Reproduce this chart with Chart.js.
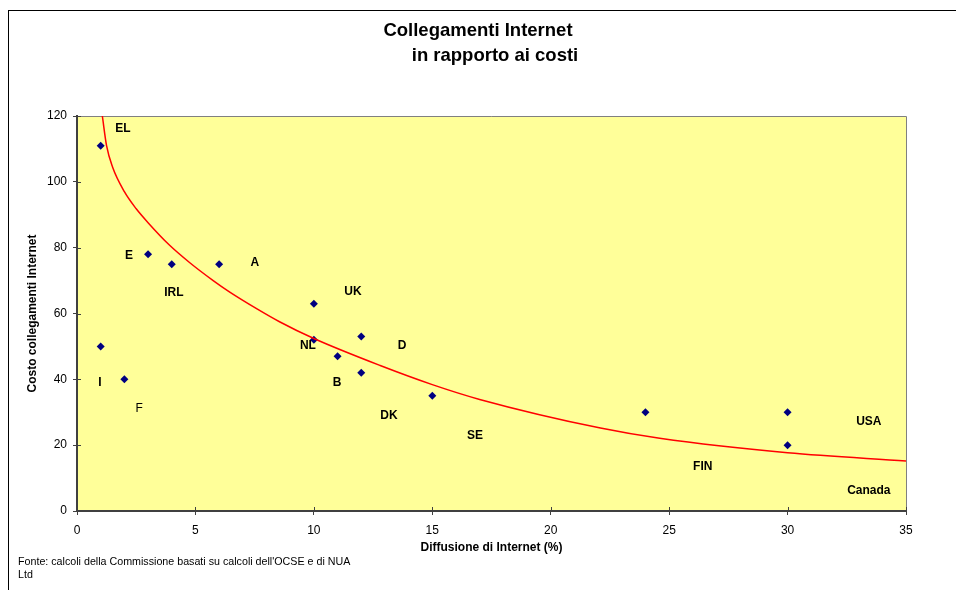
<!DOCTYPE html>
<html>
<head>
<meta charset="utf-8">
<script src="https://cdn.jsdelivr.net/npm/chart.js@4.4.1/dist/chart.umd.min.js"></script>
<style>
  html, body { margin: 0; padding: 0; background: #fff; }
  #wrap { position: relative; width: 956px; height: 590px; overflow: hidden; }
  #frame { position: absolute; left: 8px; top: 10px; width: 980px; height: 620px;
           border-left: 1px solid #000; border-top: 1px solid #000; }
  canvas { position: absolute; left: 0; top: 0; }
</style>
</head>
<body>
<div id="wrap">
  <div id="frame"></div>
  <canvas id="grafico" width="956" height="590"></canvas>
</div>
<script>
// --- DATI ---
const diffusione = [1, 3, 4, 6, 10, 10, 12, 11, 12, 1, 2, 15, 24, 30, 30];
const costo      = [111, 78, 75, 75, 63, 52, 53, 47, 42, 50, 40, 35, 30, 30, 20];

// curva di tendenza
const trendX = [1.07, 1.25, 1.5, 2, 2.5, 3, 3.9, 4.75, 5.75, 6.45, 7.6, 8.55, 10, 12.8, 15, 17, 22.1, 24.6, 30, 35];
const trendY = [120, 110.9, 104.5, 97, 91.8, 87.6, 80.8, 75.5, 70, 66.5, 61.4, 57.5, 52.4, 44.2, 38.4, 33.9, 25.2, 22.1, 17.7, 15.2];

// etichette dei paesi (posizione in unità del grafico)
const paesi  = ['EL', 'E', 'A', 'IRL', 'UK', 'NL', 'D', 'B', 'I', 'F', 'DK', 'SE', 'USA', 'FIN', 'Canada'];
const paesiX = [1.94, 2.2, 7.51, 4.09, 11.65, 9.75, 13.72, 10.98, 0.97, 2.62, 13.17, 16.8, 33.43, 26.42, 33.43];
const paesiY = [116, 77.6, 75.4, 66.4, 66.6, 50.2, 50.2, 39, 39, 31.1, 29, 22.9, 27.1, 13.5, 6.2];

const titolo = ['Collegamenti Internet', 'in rapporto ai costi'];
const fonte  = ["Fonte: calcoli della Commissione basati su calcoli dell'OCSE e di NUA", 'Ltd'];

const FONT = '"Liberation Sans", Arial, sans-serif';

// --- DECORAZIONI ---
const decor = {
  id: 'decor',
  beforeDraw(chart) {
    const { ctx, chartArea: a } = chart;
    ctx.save();
    ctx.fillStyle = '#FFFF99';
    ctx.fillRect(a.left, a.top, a.right - a.left, a.bottom - a.top);
    ctx.restore();
  },
  beforeDatasetsDraw(chart) {
    const { ctx, chartArea: a, scales } = chart;
    ctx.save();
    // bordo superiore e destro
    ctx.strokeStyle = '#808080';
    ctx.lineWidth = 1;
    ctx.beginPath();
    ctx.moveTo(a.left, a.top + 0.5);
    ctx.lineTo(a.right + 0.5, a.top + 0.5);
    ctx.lineTo(a.right + 0.5, a.bottom);
    ctx.stroke();
    // tacche interne
    ctx.strokeStyle = '#404040';
    ctx.beginPath();
    scales.x.ticks.forEach(t => {
      const px = Math.round(scales.x.getPixelForValue(t.value)) + 0.5;
      ctx.moveTo(px, a.bottom);
      ctx.lineTo(px, a.bottom - 4);
    });
    scales.y.ticks.forEach(t => {
      const py = Math.round(scales.y.getPixelForValue(t.value)) + 0.5;
      ctx.moveTo(a.left, py);
      ctx.lineTo(a.left + 4, py);
    });
    ctx.stroke();
    ctx.restore();
  },
  afterDraw(chart) {
    const { ctx, scales } = chart;
    ctx.save();
    ctx.fillStyle = '#000';
    ctx.textAlign = 'center';
    ctx.textBaseline = 'middle';
    paesi.forEach((p, i) => {
      ctx.font = (p === 'F' ? '' : 'bold ') + '12px ' + FONT;
      ctx.fillText(p, scales.x.getPixelForValue(paesiX[i]), scales.y.getPixelForValue(paesiY[i]));
    });
    // titolo
    ctx.font = 'bold 18.5px ' + FONT;
    ctx.fillText(titolo[0], 478, 31);
    ctx.fillText(titolo[1], 495, 56);
    // fonte
    ctx.font = '10.7px ' + FONT;
    ctx.textAlign = 'left';
    ctx.fillText(fonte[0], 18, 562);
    ctx.fillText(fonte[1], 18, 575);
    ctx.restore();
  }
};

new Chart(document.getElementById('grafico'), {
  type: 'scatter',
  data: {
    datasets: [
      {
        label: 'Tendenza',
        data: trendX.map((x, i) => ({ x, y: trendY[i] })),
        showLine: true,
        borderColor: '#FF0000',
        borderWidth: 1.5,
        pointRadius: 0,
        cubicInterpolationMode: 'monotone',
        order: 0
      },
      {
        label: 'Paesi',
        data: diffusione.map((x, i) => ({ x, y: costo[i] })),
        pointStyle: 'rectRot',
        pointRadius: 4,
        backgroundColor: '#000080',
        borderColor: '#000080',
        borderWidth: 0,
        order: 1
      }
    ]
  },
  options: {
    responsive: false,
    animation: false,
    devicePixelRatio: 1,
    layout: { padding: { top: 116, right: 50, left: 0, bottom: 0 } },
    plugins: { legend: { display: false }, tooltip: { enabled: false } },
    scales: {
      x: {
        type: 'linear', min: 0, max: 35,
        ticks: { stepSize: 5, color: '#000', font: { family: FONT, size: 12 }, padding: 8, maxRotation: 0 },
        grid: { drawOnChartArea: false, tickLength: 4, color: '#404040' },
        border: { color: '#404040', width: 2 },
        title: { display: true, text: 'Diffusione di Internet (%)', color: '#000',
                 font: { family: FONT, size: 12, weight: 'bold' }, padding: { top: 0, bottom: 35 } },
        afterFit(s) { s.height = 79; }
      },
      y: {
        min: 0, max: 120,
        ticks: { stepSize: 20, color: '#000', font: { family: FONT, size: 12 }, padding: 6 },
        grid: { drawOnChartArea: false, tickLength: 4, color: '#404040' },
        border: { color: '#404040', width: 2 },
        title: { display: true, text: 'Costo collegamenti Internet', color: '#000',
                 font: { family: FONT, size: 12, weight: 'bold' }, padding: { top: 25, bottom: 0 } },
        afterFit(s) { s.width = 77; }
      }
    }
  },
  plugins: [decor]
});
</script>
</body>
</html>
